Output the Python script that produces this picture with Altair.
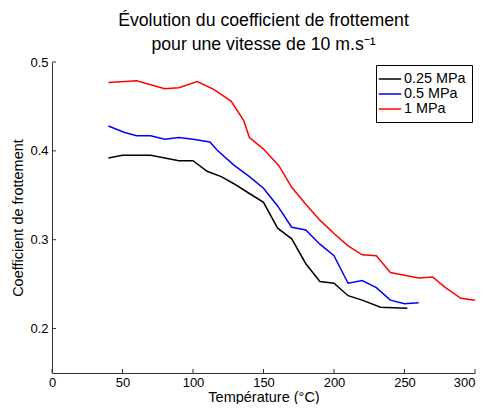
import altair as alt
import pandas as pd

# Température (°C) and coefficient de frottement for each contact pressure
t_025 = [40, 50, 60, 70, 80, 90, 100, 110, 120, 129, 140, 150, 160, 170, 180, 190, 200, 210, 220, 233, 252]
f_025 = [0.392, 0.395, 0.395, 0.395, 0.392, 0.389, 0.389, 0.377, 0.371, 0.363, 0.352, 0.342, 0.313, 0.301, 0.273, 0.253, 0.251, 0.237, 0.232, 0.224, 0.223]

t_05 = [40, 51, 60, 70, 80, 90, 100, 112, 117, 129, 140, 150, 160, 170, 180, 190, 200, 210, 220, 230, 240, 250, 260]
f_05 = [0.428, 0.421, 0.417, 0.417, 0.413, 0.415, 0.413, 0.410, 0.401, 0.384, 0.371, 0.358, 0.338, 0.314, 0.311, 0.295, 0.282, 0.251, 0.254, 0.246, 0.232, 0.228, 0.229]

t_1 = [40, 60, 80, 90, 103, 115, 127, 136, 140, 150, 161, 170, 180, 190, 200, 210, 220, 230, 240, 250, 260, 270, 279, 290, 300]
f_1 = [0.477, 0.479, 0.470, 0.471, 0.478, 0.469, 0.456, 0.434, 0.415, 0.402, 0.383, 0.359, 0.340, 0.322, 0.307, 0.293, 0.283, 0.282, 0.263, 0.260, 0.257, 0.258, 0.246, 0.234, 0.232]

series_names = ["0.25 MPa", "0.5 MPa", "1 MPa"]
series_colors = ["#000000", "#0000ff", "#ff0000"]

y_ticks = [0.2, 0.3, 0.4, 0.5]
x_ticks = [0, 50, 100, 150, 200, 250, 300]

rows = []
for name, ts, fs in zip(series_names, [t_025, t_05, t_1], [f_025, f_05, f_1]):
    for i, (t, f) in enumerate(zip(ts, fs)):
        rows.append({"Pression": name, "T": t, "f": f, "order": i})
df = pd.DataFrame(rows)

FONT = "Liberation Sans"

x_scale = alt.Scale(domain=[0, 300], nice=False, zero=False)
y_scale = alt.Scale(domain=[0.15, 0.5], nice=False, zero=False)

lines = alt.Chart(df).mark_line(strokeWidth=1.5, clip=True).encode(
    x=alt.X("T:Q", scale=x_scale,
            axis=alt.Axis(values=x_ticks, title="Température (°C)", grid=False, ticks=False,
                          labelPadding=3, titlePadding=1, labelFlush=False, format="d",
                          labelOverlap=False,
                          labelAlign={"condition": {"test": "datum.value == 300", "value": "right"},
                                      "value": "center"})),
    y=alt.Y("f:Q", scale=y_scale,
            axis=alt.Axis(values=y_ticks, title="Coefficient de frottement", grid=False, ticks=False,
                          labelPadding=4, titlePadding=4, format=".1f", labelFlush=False)),
    color=alt.Color("Pression:N",
                    scale=alt.Scale(domain=series_names, range=series_colors),
                    legend=alt.Legend(title=None, orient="none", legendX=324, legendY=3,
                                      symbolType="M-1.6,0H1.6", symbolSize=196, symbolStrokeWidth=1.5,
                                      labelFontSize=14.4, labelFont=FONT, labelColor="#000",
                                      strokeColor="#000", fillColor="#fff", padding=6,
                                      rowPadding=0, labelOffset=6)),
    order="order:Q",
)

ytick_df = pd.DataFrame({"v": y_ticks})
xtick_df = pd.DataFrame({"v": x_ticks})

yticks = alt.Chart(ytick_df).mark_rule(color="#333", strokeWidth=1).encode(
    y=alt.Y("v:Q", scale=y_scale),
    x=alt.value(0), x2=alt.value(4),
)
xticks = alt.Chart(xtick_df).mark_rule(color="#333", strokeWidth=1).encode(
    x=alt.X("v:Q", scale=x_scale),
    y=alt.value(311), y2=alt.value(307),
)

chart = alt.layer(lines, yticks, xticks).properties(
    width=423, height=311,
    title=alt.Title(["Évolution du coefficient de frottement", "pour une vitesse de 10 m.s⁻¹"],
                    fontSize=17.7, font=FONT, fontWeight="normal", color="#000",
                    anchor="middle", lineHeight=24, offset=2),
    autosize=alt.AutoSizeParams(type="none"),
    padding={"left": 44, "top": 54, "right": 5, "bottom": 31},
).configure_view(stroke=None).configure_axis(
    domainColor="#333", domainWidth=1, labelFont=FONT, labelFontSize=13, labelColor="#000",
    titleFont=FONT, titleFontSize=14.5, titleFontWeight="normal", titleColor="#000",
)

chart.save("out.html", embed_options={"renderer": "svg", "actions": False})
